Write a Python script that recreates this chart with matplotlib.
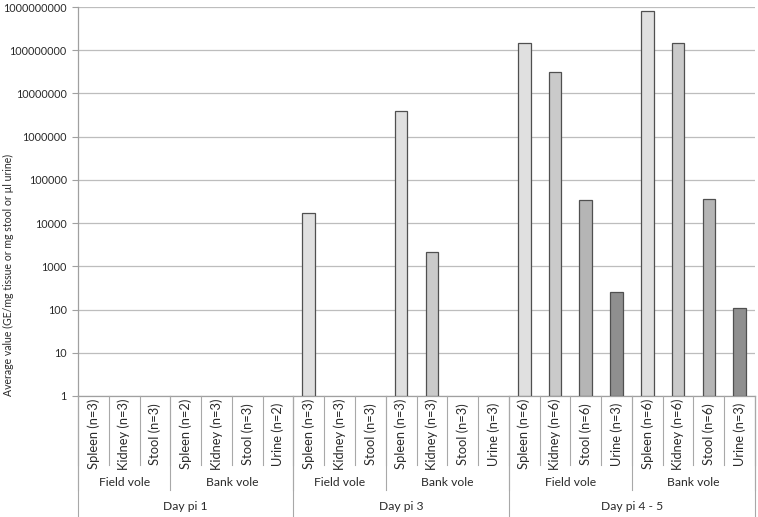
import numpy as np
import matplotlib
matplotlib.use("Agg")
import matplotlib.pyplot as plt
import matplotlib.transforms as mtransforms
from matplotlib.lines import Line2D

plt.rcParams['font.family'] = ['Lato', 'DejaVu Sans']

tissues = ["Spleen (n=3)", "Kidney (n=3)", "Stool (n=3)",
           "Spleen (n=2)", "Kidney (n=3)", "Stool (n=3)", "Urine (n=2)",
           "Spleen (n=3)", "Kidney (n=3)", "Stool (n=3)",
           "Spleen (n=3)", "Kidney (n=3)", "Stool (n=3)", "Urine (n=3)",
           "Spleen (n=6)", "Kidney (n=6)", "Stool (n=6)", "Urine (n=3)",
           "Spleen (n=6)", "Kidney (n=6)", "Stool (n=6)", "Urine (n=3)"]
species = ["Field vole", "Bank vole", "Field vole", "Bank vole", "Field vole", "Bank vole"]
species_sizes = [3, 4, 3, 4, 4, 4]
days = ["Day pi 1", "Day pi 3", "Day pi 4 - 5"]
day_sizes = [7, 7, 8]
values = [np.nan, np.nan, np.nan,
          np.nan, np.nan, np.nan, np.nan,
          17000, np.nan, np.nan,
          4.0e6, 2100, np.nan, np.nan,
          1.45e8, 3.1e7, 3.5e4, 250,
          8.0e8, 1.45e8, 3.6e4, 108]

tissue_colors = {"Spleen": "#e0e0e0", "Kidney": "#cacaca",
                 "Stool": "#b5b5b5", "Urine": "#8f8f8f"}

W, H = 758, 517
fig = plt.figure(figsize=(W / 100, H / 100), dpi=100)
ax_left, ax_right, ax_top, ax_bot = 78, 755, 7, 396
ax = fig.add_axes([ax_left / W, 1 - ax_bot / H, (ax_right - ax_left) / W, (ax_bot - ax_top) / H])

x = np.arange(len(tissues))
colors = [tissue_colors[t.split()[0]] for t in tissues]
vals = np.array(values, dtype=float)
mask = ~np.isnan(vals)
ax.bar(x[mask], vals[mask] - 1, bottom=1, width=0.41,
       color=[c for c, m in zip(colors, mask) if m],
       edgecolor="#505050", linewidth=0.9, zorder=3)

ax.set_yscale("log")
ax.set_ylim(1, 1e9)
ax.set_xlim(-0.5, len(tissues) - 0.5)
yt = [10 ** k for k in range(10)]
ax.set_yticks(yt)
ax.set_yticklabels([str(v) for v in yt], fontsize=7.8, color="#2a2a2a")
ax.yaxis.set_minor_locator(matplotlib.ticker.NullLocator())
ax.tick_params(axis="y", length=4, color="#a0a0a0", width=0.8, pad=4)
ax.set_xticks([])
ax.grid(axis="y", color="#bdbdbd", linewidth=0.9, zorder=0)
for s in ["top", "right"]:
    ax.spines[s].set_visible(False)
ax.spines["left"].set_color("#a0a0a0")
ax.spines["bottom"].set_color("#a0a0a0")
ax.spines["left"].set_linewidth(0.9)
ax.spines["bottom"].set_linewidth(0.9)

ax.set_ylabel("Average value (GE/mg tissue or mg stool or µl urine)", fontsize=7.6,
              color="#2a2a2a")
ax.yaxis.set_label_coords((14 - ax_left) / (ax_right - ax_left), (396 - 275) / (ax_bot - ax_top))

tr = mtransforms.blended_transform_factory(ax.transData, fig.transFigure)
def fy(px):
    return 1 - px / H

lc = "#a8a8a8"
# tissue labels and separators
for i, t in enumerate(tissues):
    ax.text(i, fy(434), t, rotation=90, ha="center", va="center", fontsize=9.3,
            color="#2a2a2a", transform=tr, clip_on=False)
for i in range(len(tissues) + 1):
    fig.add_artist(Line2D([i - 0.5, i - 0.5], [fy(396), fy(465)], transform=tr,
                          color=lc, linewidth=0.8))
# species
pos = 0
for name, n in zip(species, species_sizes):
    ax.text(pos + (n - 1) / 2, fy(482), name, ha="center", va="center", fontsize=8.7,
            color="#2a2a2a", transform=tr, clip_on=False)
    fig.add_artist(Line2D([pos - 0.5, pos - 0.5], [fy(396), fy(490)], transform=tr,
                          color=lc, linewidth=0.8))
    pos += n
fig.add_artist(Line2D([pos - 0.5, pos - 0.5], [fy(396), fy(490)], transform=tr,
                      color=lc, linewidth=0.8))
# days
pos = 0
for name, n in zip(days, day_sizes):
    ax.text(pos + (n - 1) / 2, fy(507), name, ha="center", va="center", fontsize=8.7,
            color="#2a2a2a", transform=tr, clip_on=False)
    fig.add_artist(Line2D([pos - 0.5, pos - 0.5], [fy(396), fy(517)], transform=tr,
                          color=lc, linewidth=0.8))
    pos += n
fig.add_artist(Line2D([pos - 0.5, pos - 0.5], [fy(396), fy(517)], transform=tr,
                      color=lc, linewidth=0.8))

fig.savefig("out.png", dpi=100)
